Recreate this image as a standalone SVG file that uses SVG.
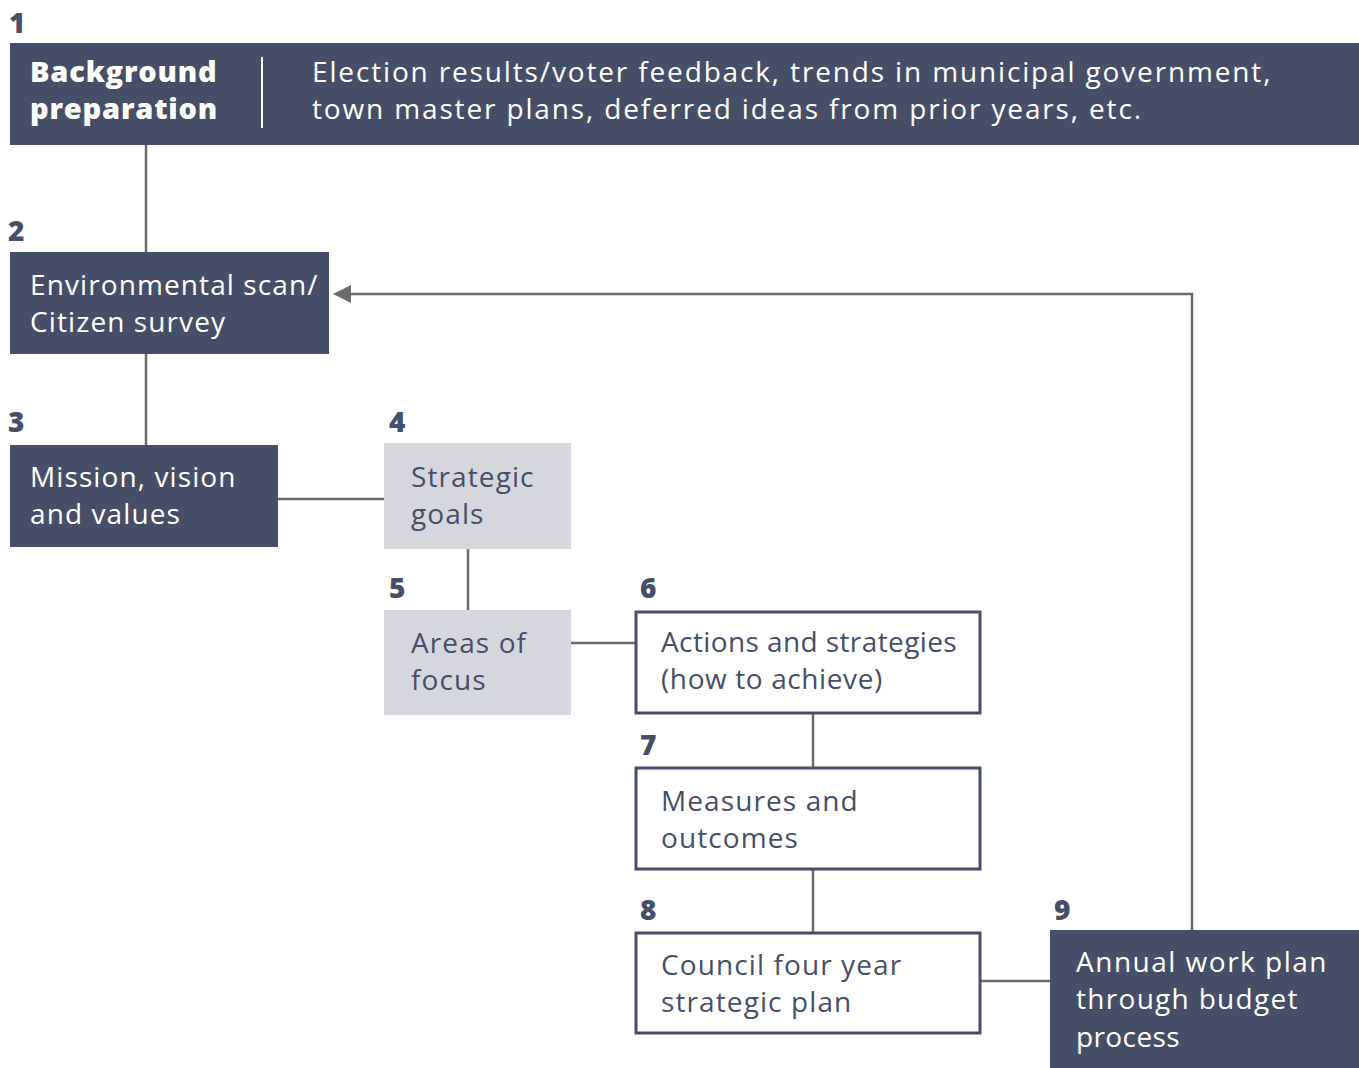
<svg xmlns="http://www.w3.org/2000/svg" width="1359" height="1068" viewBox="0 0 1359 1068">
<style>
.dark{fill:#464f67}
.gray{fill:#d6d7dd}
.out{fill:#fff;stroke:#464f67;stroke-width:3}
.num{font-family:"Open Sans",sans-serif;font-weight:800;font-size:28px;fill:#464f67}
.wt{font-family:"Open Sans",sans-serif;font-size:28px;fill:#fff;letter-spacing:1.1px}
.top{letter-spacing:1.85px}
.wb{font-family:"Open Sans",sans-serif;font-size:29px;font-weight:800;fill:#fff;letter-spacing:0.8px}
.dt{font-family:"Open Sans",sans-serif;font-size:28px;fill:#464f67;letter-spacing:1.1px}
.con{stroke:#6b6b6b;stroke-width:2.5;fill:none}
</style>
<g id="connectors">
<line class="con" x1="146" y1="145" x2="146" y2="252"/>
<line class="con" x1="146" y1="354" x2="146" y2="445"/>
<line class="con" x1="278" y1="499" x2="384" y2="499"/>
<line class="con" x1="468" y1="549" x2="468" y2="610"/>
<line class="con" x1="571" y1="643" x2="635" y2="643"/>
<line class="con" x1="813" y1="714" x2="813" y2="767"/>
<line class="con" x1="813" y1="870" x2="813" y2="932"/>
<line class="con" x1="981" y1="981" x2="1050" y2="981"/>
<polyline class="con" points="1192,930 1192,294 350,294"/>
<path d="M333,294 L351,285 L351,303 z" fill="#6b6b6b"/>
</g>
<g id="node1">
<text class="num" x="9" y="33">1</text>
<rect class="dark" x="10" y="43" width="1349" height="102"/>
<line x1="262" y1="57" x2="262" y2="128" stroke="#fff" stroke-width="2"/>
<text class="wb" x="30" y="82">Background</text>
<text class="wb" x="30" y="119">preparation</text>
<text class="wt top" x="312" y="82">Election results/voter feedback, trends in municipal government,</text>
<text class="wt top" x="312" y="119">town master plans, deferred ideas from prior years, etc.</text>
</g>
<g id="node2">
<text class="num" x="8" y="241">2</text>
<rect class="dark" x="10" y="252" width="319" height="102"/>
<text class="wt" x="30" y="295">Environmental scan/</text>
<text class="wt" x="30" y="332">Citizen survey</text>
</g>
<g id="node3">
<text class="num" x="8" y="432">3</text>
<rect class="dark" x="10" y="445" width="268" height="102"/>
<text class="wt" x="30" y="487">Mission, vision</text>
<text class="wt" x="30" y="524">and values</text>
</g>
<g id="node4">
<text class="num" x="389" y="432">4</text>
<rect class="gray" x="384" y="443" width="187" height="106"/>
<text class="dt" x="411" y="487">Strategic</text>
<text class="dt" x="411" y="524">goals</text>
</g>
<g id="node5">
<text class="num" x="389" y="598">5</text>
<rect class="gray" x="384" y="610" width="187" height="105"/>
<text class="dt" x="411" y="653">Areas of</text>
<text class="dt" x="411" y="690">focus</text>
</g>
<g id="node6">
<text class="num" x="640" y="598">6</text>
<rect class="out" x="636" y="612" width="344" height="101"/>
<text class="dt" x="661" y="652" style="letter-spacing:0.4px">Actions and strategies</text>
<text class="dt" x="661" y="689" style="letter-spacing:0.6px">(how to achieve)</text>
</g>
<g id="node7">
<text class="num" x="640" y="755">7</text>
<rect class="out" x="636" y="768" width="344" height="101"/>
<text class="dt" x="661" y="811">Measures and</text>
<text class="dt" x="661" y="848">outcomes</text>
</g>
<g id="node8">
<text class="num" x="640" y="920">8</text>
<rect class="out" x="636" y="933" width="344" height="100"/>
<text class="dt" x="661" y="975">Council four year</text>
<text class="dt" x="661" y="1012">strategic plan</text>
</g>
<g id="node9">
<text class="num" x="1054" y="920">9</text>
<rect class="dark" x="1050" y="930" width="309" height="138"/>
<text class="wt" x="1076" y="972" style="letter-spacing:1.5px">Annual work plan</text>
<text class="wt" x="1076" y="1009" style="letter-spacing:1.3px">through budget</text>
<text class="wt" x="1076" y="1047" style="letter-spacing:0.4px">process</text>
</g>
</svg>
